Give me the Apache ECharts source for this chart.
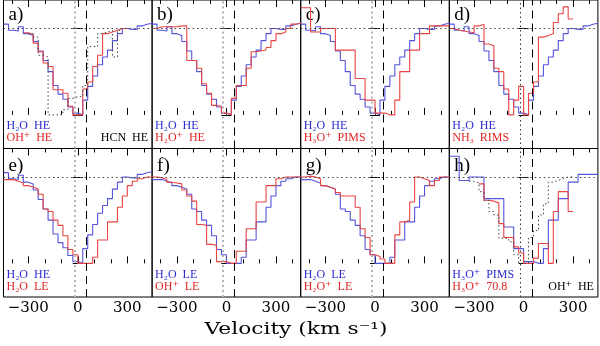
<!DOCTYPE html>
<html>
<head>
<meta charset="utf-8">
<script src="https://cdn.jsdelivr.net/npm/echarts@6/dist/echarts.min.js"></script>
<style>
  html, body { margin: 0; padding: 0; background: #fff; }
  #chart { width: 600px; height: 346px; }
</style>
</head>
<body>
<div id="chart"></div>
<script>
// spectra are binned in 30 km/s channels, from -450 to +450 km/s
const binStart = -450;
const binWidth = 30;
const tickMajor = [-300, 0, 300];
const tickMinor = [-400, -200, -100, 100, 200, 400];
const yTicks = [0, 1];

// normalised line profiles, one value per channel (null = not plotted)
const h2oHE = [1.05, 0.98, 0.97, 1.02, 0.94, 0.92, 0.85, 0.74, 0.63, 0.50, 0.34, 0.24, 0.18, 0.09, 0.02,
               0.0, 0.17, 0.33, 0.45, 0.58, 0.67, 0.75, 0.86, 0.94, 1.0, 0.99, 0.99, 1.03, 1.05, 1.06];
const ohpHE = [null, null, null, null, 0.95, 0.93, 0.83, 0.73, 0.60, 0.56, 0.29, 0.29, 0.25, 0.10, 0.0,
               0.0, 0.30, 0.38, 0.56, 0.69, 0.94, 0.96, 0.98, 1.0, 1.0, null, null, null, null, null];
const hcnHE = [null, null, null, null, null, 0.94, 0.90, 0.69, 0.67, 0.0, 0.0, 0.0, 0.06, 0.19, 0.21,
               0.21, 0.34, 0.79, 0.79, 0.94, 0.96, 0.98, 0.67, 0.98, null, null, null, null, null, null];
const h2opHE = [1.0, 1.02, 1.02, 1.02, 1.02, 1.03, 1.03, 0.63, 0.63, 0.54, 0.36, 0.25, 0.11, 0.10, 0.02,
                0.0, 0.19, 0.34, 0.34, 0.54, 0.73, 0.74, 0.75, 0.78, 0.86, 0.94, 0.96, 1.0, 1.05, 1.06];
const h3opPIMS = [1.24, 1.24, 0.96, 0.96, 1.0, 1.0, 1.0, 0.75, 0.75, 0.75, 0.75, 0.42, 0.42, 0.17, 0.17,
                  0.02, 0.02, 0.0, 0.0, 0.17, 0.5, 0.5, 0.75, 0.75, 0.94, 0.94, 1.03, 1.03, 1.03, 1.03];
const nh3RIMS = [1.0, 0.98, 0.97, 0.96, 0.95, 1.03, 1.05, 0.82, 0.80, 0.54, 0.50, 0.30, 0.0, 0.17, 0.33,
                 0.0, 0.25, 0.38, 0.90, 0.92, 0.94, 1.07, 1.17, 1.25, 1.11, null, null, null, null, null];
const h2oLE = [0.97, 0.97, 0.95, 0.93, 0.90, 0.88, 0.86, 0.80, 0.63, 0.60, 0.50, 0.44, 0.32, 0.16, 0.10,
               0.0, 0.0, 0.0, 0.07, 0.27, 0.27, 0.48, 0.48, 0.65, 0.78, 0.90, 0.95, 0.98, 1.0, 1.0];
const ohpLE = [1.0, 0.99, 0.97, 0.94, 0.93, 0.92, 0.85, 0.78, 0.72, 0.45, 0.44, 0.22, 0.21, 0.02, 0.02,
               0.0, 0.0, 0.14, 0.14, 0.40, 0.40, 0.71, 0.71, 0.90, 0.90, 0.98, 1.0, 1.0, 1.0, 1.0];
const h2opLE = [1.0, 1.01, 1.0, 0.98, 0.90, 0.88, 0.86, 0.82, 0.78, 0.78, 0.78, 0.65, 0.40, 0.30, 0.10,
                0.08, 0.05, 0.0, 0.0, 0.33, 0.48, 0.50, 0.71, 1.0, 0.98, 0.96, 0.90, 0.96, 1.0, 1.0];
const h3op708 = [null, null, null, null, null, null, 0.92, 0.73, 0.72, 0.70, 0.46, 0.30, 0.30, 0.19, 0.12,
                 0.0, 0.0, 0.06, 0.23, 0.23, 0.0, 0.60, 0.83, 0.83, 0.60, null, null, null, null, null];

const BLUE = '#5454dc', RED = '#e84444', BLUE_T = '#2b2bd0', RED_T = '#e02626';

const panels = [
  { tag: 'a)', lines: [[h2oHE, 'b'], [ohpHE, 'r'], [hcnHE, 'k']], text: [['H₂O  HE', BLUE_T], ['OH⁺  HE', RED_T]], right: 'HCN  HE' },
  { tag: 'b)', lines: [[h2oHE, 'b'], [h2opHE, 'r']], text: [['H₂O  HE', BLUE_T], ['H₂O⁺  HE', RED_T]] },
  { tag: 'c)', lines: [[h2oHE, 'b'], [h3opPIMS, 'r']], text: [['H₂O  HE', BLUE_T], ['H₃O⁺  PIMS', RED_T]] },
  { tag: 'd)', lines: [[h2oHE, 'b'], [nh3RIMS, 'r']], text: [['H₂O  HE', BLUE_T], ['NH₃  RIMS', RED_T]], thinZero: true },
  { tag: 'e)', lines: [[h2oHE, 'b'], [h2oLE, 'r']], text: [['H₂O  HE', BLUE_T], ['H₂O  LE', RED_T]] },
  { tag: 'f)', lines: [[h2oLE, 'b'], [ohpLE, 'r']], text: [['H₂O  LE', BLUE_T], ['OH⁺  LE', RED_T]] },
  { tag: 'g)', lines: [[h2oLE, 'b'], [h2opLE, 'r']], text: [['H₂O  LE', BLUE_T], ['H₂O⁺  LE', RED_T]] },
  { tag: 'h)', lines: [[h3opPIMS, 'b'], [h3op708, 'r'], [ohpHE, 'k']], text: [['H₃O⁺  PIMS', BLUE_T], ['H₃O⁺  70.8', RED_T]], right: 'OH⁺  HE', thinZero: true }
];

// histogram points: left edge of each channel, plus closing right edge
function steps(vals) {
  const pts = [];
  vals.forEach((y, i) => {
    if (y == null) return;
    pts.push([binStart + i * binWidth, y]);
    if (i === vals.length - 1 || vals[i + 1] == null) pts.push([binStart + (i + 1) * binWidth, y]);
  });
  return pts;
}

const fmt = v => (v < 0 ? '−' + (-v) : String(v));
const serif = '"Liberation Serif", "DejaVu Serif", serif';
const axisFont = '"DejaVu Serif", serif';

const grids = [], xAxes = [], yAxes = [], series = [], graphics = [];
const panelW = 148.6, x0 = 3.5;

panels.forEach((p, i) => {
  const col = i % 4, row = Math.floor(i / 4);
  const left = x0 + col * panelW;
  const top = row === 0 ? -1 : 148.5;
  const h = row === 0 ? 149.5 : 148.5;
  grids.push({ left, top, width: panelW, height: h, show: true, borderColor: '#000', borderWidth: 1 });

  const xBase = { type: 'value', gridIndex: i, min: -450, max: 450, splitLine: { show: false }, axisLine: { show: false } };
  [['bottom', tickMajor, 7, row === 1], ['bottom', tickMinor, 4, false], ['top', tickMajor, 7, false], ['top', tickMinor, 4, false]]
    .forEach(([pos, vals, len, lab]) => {
      xAxes.push(Object.assign({}, xBase, {
        position: pos,
        axisTick: { show: true, inside: true, length: len, customValues: vals, lineStyle: { color: '#000', width: 1 } },
        axisLabel: { show: lab, customValues: tickMajor, formatter: fmt, margin: 4, color: '#000', fontSize: 15, fontFamily: axisFont }
      }));
    });
  ['left', 'right'].forEach(pos => {
    yAxes.push({
      type: 'value', gridIndex: i, position: pos, min: -0.39, max: 1.33,
      splitLine: { show: false }, axisLine: { show: false }, axisLabel: { show: false },
      axisTick: { show: true, inside: true, length: 5, customValues: yTicks, lineStyle: { color: '#000' } }
    });
  });

  p.lines.forEach(([vals, kind], j) => {
    const s = {
      type: 'line', xAxisIndex: 4 * i, yAxisIndex: 2 * i, step: 'end', symbol: 'none',
      data: steps(vals), animation: false, silent: true, z: 3 + j,
      lineStyle: kind === 'k' ? { color: '#444', width: 1, type: [1.5, 2.5] } : { color: kind === 'b' ? BLUE : RED, width: 1.1 }
    };
    if (j === 0) {
      s.markLine = {
        silent: true, symbol: ['none', 'none'], label: { show: false }, animation: false,
        data: [
          { yAxis: 1, lineStyle: { type: [1.5, 3], color: '#444', width: 1 } },
          { xAxis: -20, lineStyle: p.thinZero ? { type: [1.5, 3], color: '#333', width: 1 } : { type: [2, 3], color: '#b4b4b4', width: 2 } },
          { xAxis: 50, lineStyle: { type: [8, 5], color: '#000', width: 1 } }
        ]
      };
    }
    series.push(s);
  });

  const baseY = row === 0 ? 126 : 275;
  graphics.push({ type: 'text', x: left + 5, y: row === 0 ? 15 : 166,
    style: { text: p.tag, fill: '#000', font: '19px ' + serif, textVerticalAlign: 'middle' } });
  p.text.forEach(([t, c], k) => {
    graphics.push({ type: 'text', x: left + 3, y: baseY + k * 12,
      style: { text: t, fill: c, font: '12px ' + serif, textVerticalAlign: 'middle' } });
  });
  if (p.right) {
    graphics.push({ type: 'text', x: left + panelW - 4, y: baseY + 12,
      style: { text: p.right, fill: '#000', font: '12px ' + serif, textAlign: 'right', textVerticalAlign: 'middle' } });
  }
});

graphics.push({ type: 'text', x: 296, y: 330, scaleX: 1.36,
  style: { text: 'Velocity (km s⁻¹)', fill: '#000', font: '16px ' + axisFont, textAlign: 'center', textVerticalAlign: 'middle' } });

const chart = echarts.init(document.getElementById('chart'), null, { renderer: 'canvas' });
chart.setOption({
  animation: false,
  grid: grids,
  xAxis: xAxes,
  yAxis: yAxes,
  series: series,
  graphic: graphics
});
</script>
</body>
</html>
